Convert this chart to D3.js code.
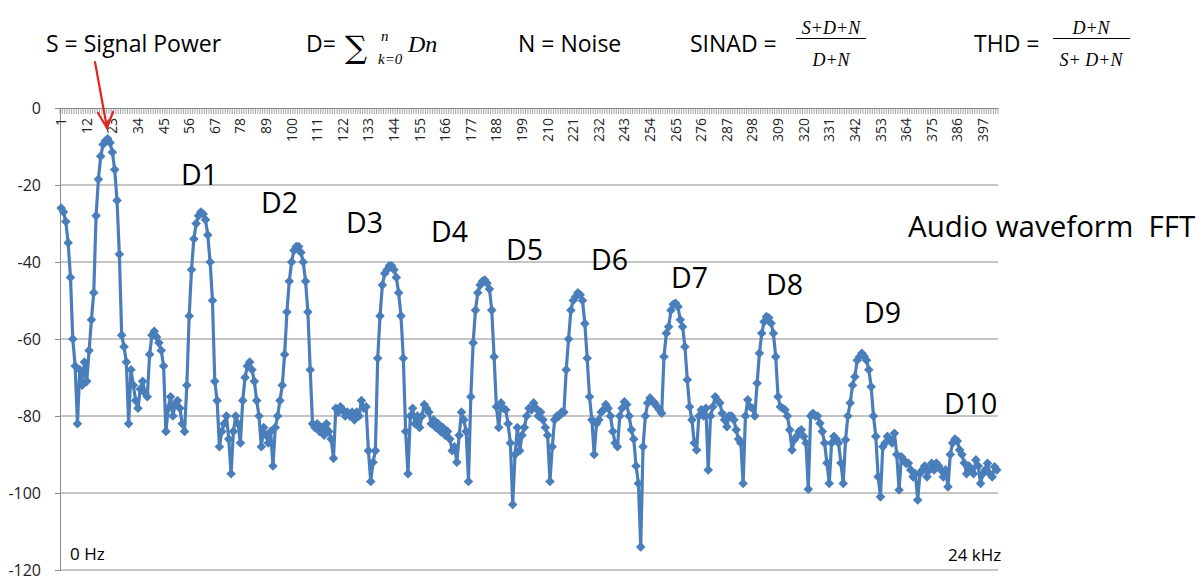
<!DOCTYPE html>
<html><head><meta charset="utf-8">
<script src="https://cdn.jsdelivr.net/npm/d3@7"></script>
<style>
html,body{margin:0;padding:0;background:#fff;}
svg{display:block;font-family:"Open Sans",sans-serif;}
</style></head><body>
<svg id="chart" width="1202" height="580"></svg>
<script>
// ---------------- data ----------------
const categories = d3.range(1, 404); // FFT bins 1..403
const tickLabels = [1,12,23,34,45,56,67,78,89,100,111,122,133,144,155,166,177,188,199,210,221,232,243,254,265,276,287,298,309,320,331,342,353,364,375,386,397];
const yTicks = [0,-20,-40,-60,-80,-100,-120];
const magnitudeDb = [
 -26,-27,-29.5,-35,-44,-60,-67,-82,-68,-72,
 -66,-71,-63,-55,-48,-28,-18.5,-12.5,-9.5,-8.5,
 -8,-9,-11.5,-16,-24,-38,-59,-62,-66,-82,
 -68,-72,-76,-78,-73,-71,-74,-75,-64,-59,
 -58,-59.5,-61,-63,-67,-84,-78,-75,-80,-77,
 -76,-78,-82,-84,-72,-54,-42,-34,-30,-28,
 -27,-27.5,-29,-33,-40,-50,-71,-76,-88,-84,
 -82,-80,-86,-95,-84,-80,-82,-87,-76,-70,
 -67,-66,-68,-71,-76,-80,-88,-83,-85,-87,
 -84,-93,-83,-80,-76,-72,-64,-53,-45,-40,
 -37,-36,-36,-37.5,-40,-45,-53,-68,-82,-83,
 -82,-84,-83,-85,-82,-84,-86,-91,-78,-79,
 -77.6,-78.4,-80,-79,-80,-79,-81,-79,-80,-76,
 -78,-77.6,-89,-97,-92,-89,-65,-54,-46,-43,
 -42,-41,-41,-42,-44,-48,-54,-65,-84,-95,
 -80,-78,-82,-80,-83,-80,-77,-78,-79,-82,
 -81,-83,-82,-84,-83,-85,-84,-86,-89,-88,
 -92,-85,-79,-81,-84,-97,-75,-61,-52.5,-48,
 -46,-45,-44.7,-45.5,-47,-52.5,-64.6,-77.6,-83,-76.6,
 -78,-78.4,-82,-87,-103,-90,-83,-89,-85,-83,
 -80,-78,-78.4,-76.6,-78,-80,-79,-81,-83,-85,
 -97,-88,-81,-80,-80,-79,-79,-68,-60,-52.5,
 -50,-49,-48,-48.5,-50,-56,-65,-75,-81,-90,
 -82,-81,-79,-78.4,-77,-78,-80,-84,-87,-88,
 -80,-78,-76.3,-77,-80,-83.6,-86,-93,-97.5,-114,
 -88,-80,-76.6,-75.3,-76.3,-76.6,-77.6,-78.4,-79.3,-64.6,
 -58.5,-56.8,-52.5,-51,-50.7,-51.6,-55,-56.8,-62,-70.6,
 -77.6,-81,-87,-88.8,-80,-78.4,-80,-78,-94,-80,
 -77.6,-75,-76,-76.6,-79.3,-81,-82.8,-80,-80,-81,
 -83.6,-86,-87,-97.5,-80,-75.8,-77.6,-78,-80,-71.5,
 -63.7,-58.5,-55.5,-54.2,-54.5,-55.9,-58.5,-64.6,-75,-77.6,
 -78,-78.4,-80,-83.6,-88.8,-86.2,-85.3,-84,-83.6,-85.3,
 -87,-99,-80,-79.3,-80,-80,-81.9,-84,-87,-92.2,
 -97.5,-87,-85.3,-86,-87,-92.2,-97.5,-86.2,-80,-76.6,
 -72,-69.8,-65.5,-64.6,-63.7,-64.5,-65.5,-68,-72.4,-80,
 -85.3,-95.8,-101,-88,-87,-85.3,-86,-87,-84.5,-90,
 -99.2,-90.6,-91.4,-92.3,-92.3,-94,-95.8,-95,-101.8,-94.9,
 -94,-93,-95.8,-94,-92.3,-94,-92.2,-93,-94,-95.8,
 -94,-98.4,-90,-87,-86,-86.5,-88.8,-90,-92.2,-95,
 -93,-94,-95,-91.4,-93,-97.5,-95,-94,-92.3,-95,
 -95.8,-93.2,-94
];
const harmonicLabels = ["D1","D2","D3","D4","D5","D6","D7","D8","D9","D10"];

// ---------------- layout ----------------
const W = 1202, H = 580;
const plot = {left: 60, right: 998, top: 108, bottom: 570};
const harmonicLabelPos = [[181,185],[261,213],[346,233],[431,241.5],[506,260],[591,270],[671,288],[766,295],[864,323],[944,414]];
const blue = "#4a7ebb", grid = "#8c8c8c";

const svg = d3.select("#chart");
svg.append("rect").attr("width",W).attr("height",H).attr("fill","#fff");

const x = d3.scaleBand().domain(categories).range([plot.left, plot.right]).paddingInner(0).paddingOuter(0);
const y = d3.scaleLinear().domain([-120, 0]).range([plot.bottom, plot.top]);
const cx = c => x(c) + x.bandwidth()/2;

// gridlines + y axis
const yAxis = d3.axisLeft(y).tickValues(yTicks).tickSize(5).tickPadding(14).tickFormat(d => String(d));
const gy = svg.append("g").attr("transform",`translate(${plot.left},0)`).call(yAxis);
gy.select(".domain").attr("stroke",grid);
gy.selectAll(".tick line").attr("stroke",grid);
gy.selectAll(".tick text").attr("font-size",16).attr("fill","#222").attr("font-family","Open Sans, sans-serif");
svg.append("g").selectAll("line").data(yTicks.filter(v=>v!==0)).join("line")
  .attr("x1",plot.left).attr("x2",plot.right).attr("y1",d=>y(d)).attr("y2",d=>y(d))
  .attr("stroke",grid).attr("stroke-width",1);

// category axis at 0 dB (top), labels rotated
const gx = svg.append("g").attr("transform",`translate(0,${y(0)})`)
  .call(d3.axisBottom(x).tickValues(tickLabels).tickSize(0).tickSizeOuter(0));
gx.select(".domain").attr("stroke",grid);
gx.selectAll(".tick text").attr("transform","rotate(-90)").attr("x",-10).attr("y",0).attr("dy","0.36em")
  .style("text-anchor","end").attr("font-size",14).attr("fill","#222").attr("font-family","Open Sans, sans-serif");
const bounds = categories.map(c => x(c)).concat([plot.right]);
svg.append("g").selectAll("line").data(bounds).join("line")
  .attr("x1",d=>d).attr("x2",d=>d).attr("y1",y(0)).attr("y2",y(0)+6)
  .attr("stroke",grid).attr("stroke-width",0.8);

// series line + markers
const pts = categories.map((c,i)=>[c, magnitudeDb[i]]);
svg.append("path").datum(pts)
  .attr("fill","none").attr("stroke",blue).attr("stroke-width",3.2).attr("stroke-linejoin","round")
  .attr("d", d3.line().x(d=>cx(d[0])).y(d=>y(d[1])));
const diamond = d3.symbol(d3.symbolSquare, 46)();
svg.append("g").selectAll("path").data(pts).join("path")
  .attr("d",diamond).attr("fill",blue)
  .attr("transform",d=>`translate(${cx(d[0])},${y(d[1])}) rotate(45)`);

// harmonic labels
svg.append("g").selectAll("text").data(harmonicLabels).join("text")
  .attr("x",(d,i)=>harmonicLabelPos[i][0]).attr("y",(d,i)=>harmonicLabelPos[i][1])
  .attr("font-size",28.5).attr("fill","#000").text(d=>d);

svg.append("text").attr("x",908).attr("y",237).attr("font-size",29.5).attr("fill","#000")
  .attr("xml:space","preserve").text("Audio waveform  FFT");
svg.append("text").attr("x",70).attr("y",560).attr("font-size",17).attr("fill","#000").text("0 Hz");
svg.append("text").attr("x",948).attr("y",561).attr("font-size",17).attr("fill","#000").text("24 kHz");

// header formulas
const hdr = svg.append("g").attr("fill","#000");
hdr.append("text").attr("x",46).attr("y",51.5).attr("font-size",23).text("S = Signal Power");
hdr.append("text").attr("x",306).attr("y",51.5).attr("font-size",23).text("D=");
hdr.append("text").attr("x",345).attr("y",58).attr("font-size",31).attr("font-family","DejaVu Serif, serif").text("\u2211");
hdr.append("text").attr("x",381).attr("y",41).attr("font-size",15).attr("font-style","italic").attr("font-family","Liberation Serif, serif").text("n");
hdr.append("text").attr("x",378).attr("y",64).attr("font-size",15).attr("font-style","italic").attr("font-family","Liberation Serif, serif").text("k=0");
hdr.append("text").attr("x",408).attr("y",52).attr("font-size",24).attr("font-style","italic").attr("font-family","Liberation Serif, serif").text("Dn");
hdr.append("text").attr("x",518).attr("y",51.5).attr("font-size",23).text("N = Noise");
hdr.append("text").attr("x",690).attr("y",51.5).attr("font-size",23).text("SINAD =");
const frac = (cxp, num, den, x1, x2) => {
  hdr.append("text").attr("x",cxp).attr("y",34).attr("text-anchor","middle").attr("font-size",18)
    .attr("font-style","italic").attr("font-family","Liberation Serif, serif").text(num);
  hdr.append("line").attr("x1",x1).attr("x2",x2).attr("y1",38.5).attr("y2",38.5).attr("stroke","#000").attr("stroke-width",1);
  hdr.append("text").attr("x",cxp).attr("y",66).attr("text-anchor","middle").attr("font-size",18)
    .attr("font-style","italic").attr("font-family","Liberation Serif, serif").text(den);
};
frac(831, "S+D+N", "D+N", 796, 866);
hdr.append("text").attr("x",974).attr("y",51.5).attr("font-size",23).text("THD =");
frac(1091, "D+N", "S+ D+N", 1053, 1130);

// red arrow pointing to the fundamental
const arrow = svg.append("g").attr("stroke","#e8231f").attr("stroke-width",2.2).attr("fill","none").attr("stroke-linecap","round");
arrow.append("line").attr("x1",95).attr("y1",62).attr("x2",107).attr("y2",128);
arrow.append("polyline").attr("points","98,113 107,128 113,112");
</script>
</body></html>
